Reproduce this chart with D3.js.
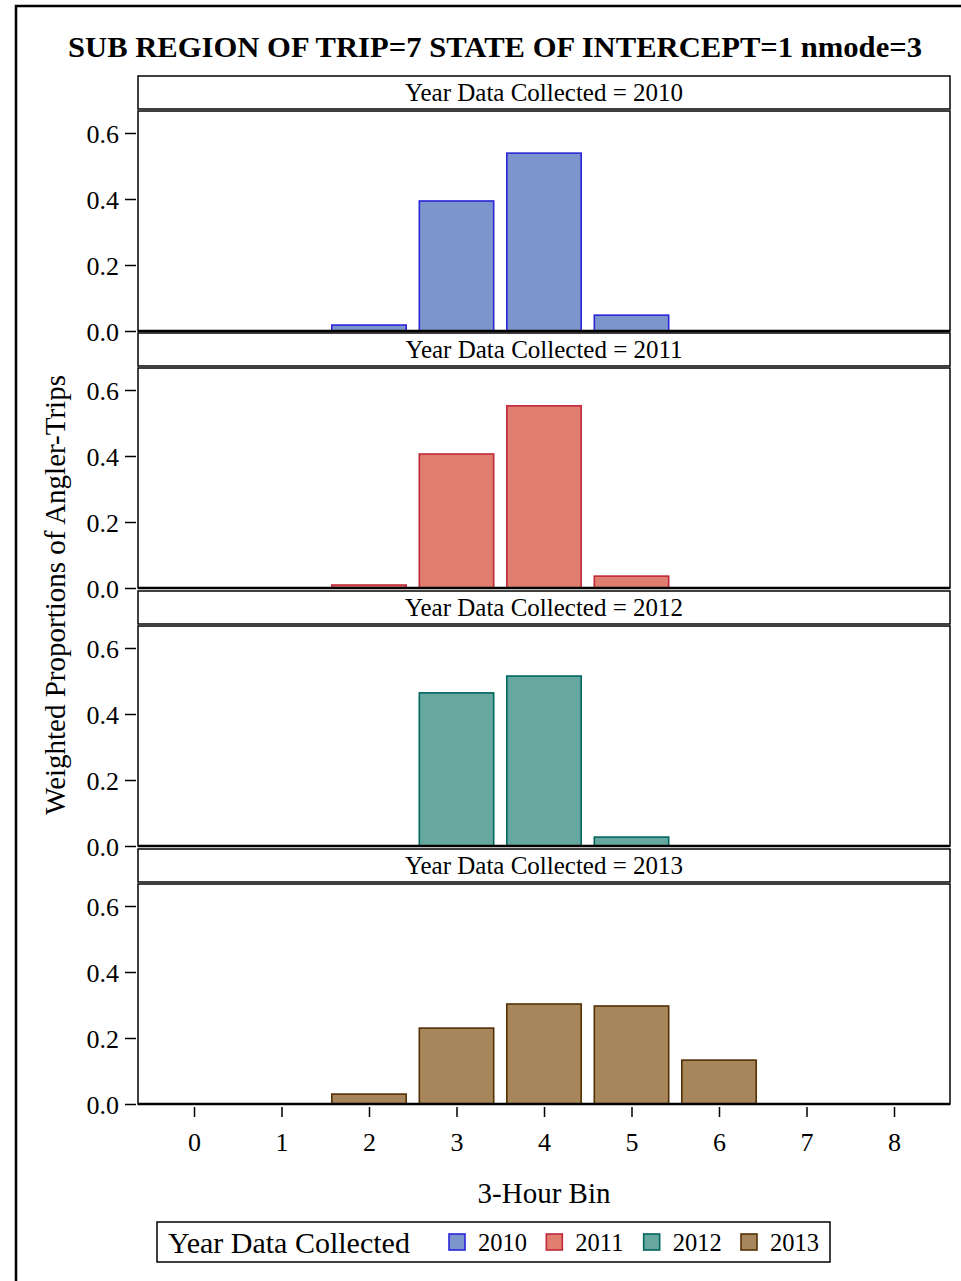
<!DOCTYPE html>
<html><head><meta charset="utf-8">
<script src="https://cdn.jsdelivr.net/npm/d3@7"></script>
<style>body{margin:0;background:#fff}svg{display:block}text{font-family:"Liberation Serif","Times New Roman",serif;fill:#000}</style>
</head><body>
<script>
const bins = [0,1,2,3,4,5,6,7,8];
const years = ["2010","2011","2012","2013"];
const v2010 = [0,0,0.018,0.394,0.539,0.048,0,0,0];
const v2011 = [0,0,0.009,0.406,0.552,0.036,0,0,0];
const v2012 = [0,0,0,0.464,0.515,0.027,0,0,0];
const v2013 = [0,0,0.030,0.230,0.303,0.297,0.133,0,0];
const yTicks = [0,0.2,0.4,0.6];
const fills = ["#7C96CD","#E07F6F","#66A7A0","#A8865C"];
const strokes = ["#2A25D9","#C0283A","#01665E","#543005"];
const series = [v2010,v2011,v2012,v2013];

const W=961,H=1281;
const svg=d3.select("body").append("svg").attr("width",W).attr("height",H);
svg.append("rect").attr("x",16).attr("y",6).attr("width",W+10).attr("height",H+10).attr("fill","none").attr("stroke","#000").attr("stroke-width",2.5);

svg.append("text").attr("x",495).attr("y",57).attr("text-anchor","middle").attr("font-size",30).attr("font-weight","bold")
  .attr("textLength",854).attr("lengthAdjust","spacingAndGlyphs")
  .text("SUB REGION OF TRIP=7 STATE OF INTERCEPT=1 nmode=3");

const left=138,right=950;
const x=d3.scaleLinear().domain([-0.64,8.64]).range([left,right]);
const step=x(1)-x(0), bw=step*0.85;
const panelTops=[76,333,591,849];
const headH=33, gap=2, plotH=220;

panelTops.forEach((t,i)=>{
  const g=svg.append("g");
  g.append("rect").attr("x",left).attr("y",t).attr("width",right-left).attr("height",headH).attr("fill","#fff").attr("stroke","#000").attr("stroke-width",1.5);
  g.append("text").attr("x",(left+right)/2).attr("y",t+25).attr("text-anchor","middle").attr("font-size",25)
    .text("Year Data Collected = "+years[i]);
  const pt=t+headH+gap, pb=pt+plotH;
  const y=d3.scaleLinear().domain([0,0.6]).range([pb,pb-198]);
  g.append("rect").attr("x",left).attr("y",pt).attr("width",right-left).attr("height",plotH).attr("fill","#fff").attr("stroke","#000").attr("stroke-width",1.5);
  g.selectAll("rect.bar").data(bins).enter().append("rect").attr("class","bar")
    .attr("x",d=>x(d)-bw/2).attr("width",bw)
    .attr("y",d=>y(series[i][d])).attr("height",d=>pb-y(series[i][d]))
    .attr("fill",fills[i]).attr("stroke",strokes[i]).attr("stroke-width",1.6);
  g.append("line").attr("x1",left).attr("x2",right).attr("y1",pb).attr("y2",pb).attr("stroke","#000").attr("stroke-width",2.5);
  const ya=d3.axisLeft(y).tickValues(yTicks).tickFormat(d3.format(".1f")).tickSize(11).tickPadding(6);
  const ag=g.append("g").attr("transform",`translate(${left-2},0)`).call(ya);
  ag.attr("font-family",null).attr("font-size",null);
  ag.select(".domain").remove();
  ag.selectAll("line").attr("stroke","#000").attr("stroke-width",1.5);
  ag.selectAll("text").attr("font-size",26).attr("dy","0.35em");
  if(i===3){
    const xa=d3.axisBottom(x).tickValues(bins).tickSize(10).tickPadding(16).tickFormat(d3.format("d"));
    const xg=g.append("g").attr("transform",`translate(0,${pb+3})`).call(xa);
    xg.attr("font-family",null).attr("font-size",null);
    xg.select(".domain").remove();
    xg.selectAll("line").attr("stroke","#000").attr("stroke-width",1.5);
    xg.selectAll("text").attr("font-size",26);
  }
});

svg.append("text").attr("transform","translate(65,595) rotate(-90)").attr("text-anchor","middle").attr("font-size",29)
  .text("Weighted Proportions of Angler-Trips");
svg.append("text").attr("x",544).attr("y",1203).attr("text-anchor","middle").attr("font-size",29).text("3-Hour Bin");

// legend
const lg=svg.append("g");
lg.append("rect").attr("x",157).attr("y",1222).attr("width",673).attr("height",40).attr("fill","#fff").attr("stroke","#000").attr("stroke-width",1.5);
lg.append("text").attr("x",168).attr("y",1253).attr("font-size",30).text("Year Data Collected");
const lx=d3.scalePoint().domain(years).range([449,741]);
years.forEach((yr,i)=>{
  lg.append("rect").attr("x",lx(yr)).attr("y",1234).attr("width",16).attr("height",16).attr("fill",fills[i]).attr("stroke",strokes[i]).attr("stroke-width",1.6);
  lg.append("text").attr("x",lx(yr)+29).attr("y",1251).attr("font-size",24.5).text(yr);
});
</script>
</body></html>
